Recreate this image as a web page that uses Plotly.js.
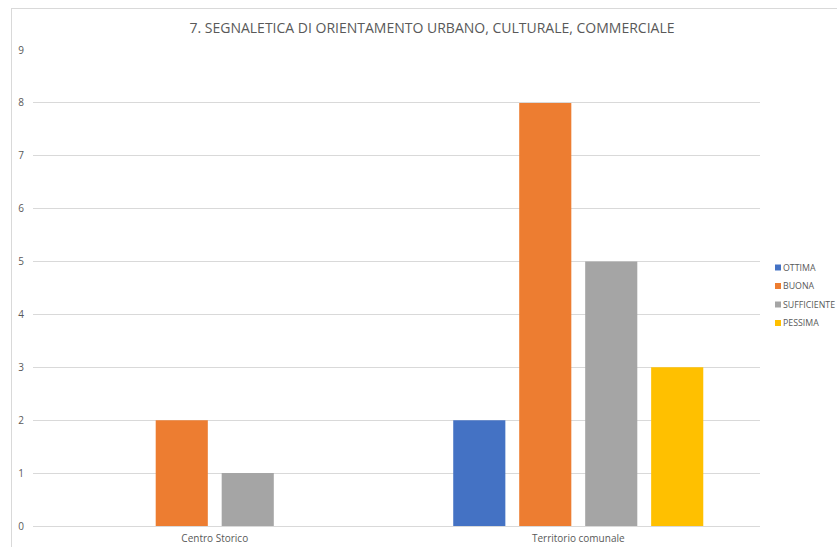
<!DOCTYPE html>
<html>
<head>
<meta charset="utf-8">
<script src="https://cdn.plot.ly/plotly-3.0.1.min.js"></script>
<style>
html,body{margin:0;padding:0;overflow:hidden;background:#fff;}
#wrap{position:relative;width:837px;height:547px;}
#chart{width:837px;height:547px;}
#border{position:absolute;left:11px;top:8px;width:900px;height:600px;border:1px solid #d9d9d9;pointer-events:none;}
</style>
</head>
<body>
<div id="wrap"><div id="chart"></div><div id="border"></div></div>
<script>
const categories = ["Centro Storico", "Territorio comunale"];
const seriesNames = ["OTTIMA", "BUONA", "SUFFICIENTE", "PESSIMA"];
const ottima = [0, 2];
const buona = [2, 8];
const sufficiente = [1, 5];
const pessima = [0, 3];
const colors = ["#4472C4", "#ED7D31", "#A5A5A5", "#FFC000"];
const values = [ottima, buona, sufficiente, pessima];

const traces = seriesNames.map((n, i) => ({
  type: "bar", name: n, x: categories, y: values[i],
  marker: {color: colors[i]}, hoverinfo: "x+y+name"
}));

// plot area in pixels, used to place the custom legend
const L = 33, R = 760, T = 50, B = 526;
const px = x => (x - L) / (R - L);
const py = y => (B - y) / (B - T);
const legendY = [267.5, 286, 304.5, 323];

const shapes = seriesNames.map((n, i) => ({
  type: "rect", xref: "paper", yref: "paper",
  x0: px(775), x1: px(781), y0: py(legendY[i] + 3), y1: py(legendY[i] - 3),
  fillcolor: colors[i], line: {width: 0}
}));
const annotations = seriesNames.map((n, i) => ({
  text: n, xref: "paper", yref: "paper", x: px(782), y: py(legendY[i]),
  xanchor: "left", yanchor: "middle", showarrow: false, borderpad: 0,
  font: {size: 8.8, color: "#595959"}
}));

const layout = {
  width: 837, height: 547,
  margin: {l: L, r: 837 - R, t: T, b: 547 - B, pad: 0, autoexpand: false},
  paper_bgcolor: "#fff", plot_bgcolor: "#fff",
  font: {family: "Open Sans, Liberation Sans, sans-serif", color: "#595959", size: 10},
  title: {text: "7. SEGNALETICA DI ORIENTAMENTO URBANO, CULTURALE, COMMERCIALE",
    font: {size: 14, color: "#595959"}, x: 432/837, xanchor: "center", y: 1-28/547, yanchor: "middle"},
  barmode: "group", bargap: 0.274, bargroupgap: 0.21,
  xaxis: {type: "category", showgrid: false, zeroline: false, showline: false, ticks: "",
    ticklabelstandoff: 5, tickfont: {size: 10, color: "#595959"}},
  yaxis: {range: [0, 9], dtick: 1, showgrid: true, gridcolor: "#d9d9d9", gridwidth: 1,
    zeroline: true, zerolinecolor: "#d9d9d9", zerolinewidth: 1, showline: false, ticks: "",
    ticklabelstandoff: 8, tickfont: {size: 10, color: "#595959"}},
  showlegend: false,
  shapes: shapes,
  annotations: annotations
};

Plotly.newPlot("chart", traces, layout, {displayModeBar: false, responsive: false});
</script>
</body>
</html>
